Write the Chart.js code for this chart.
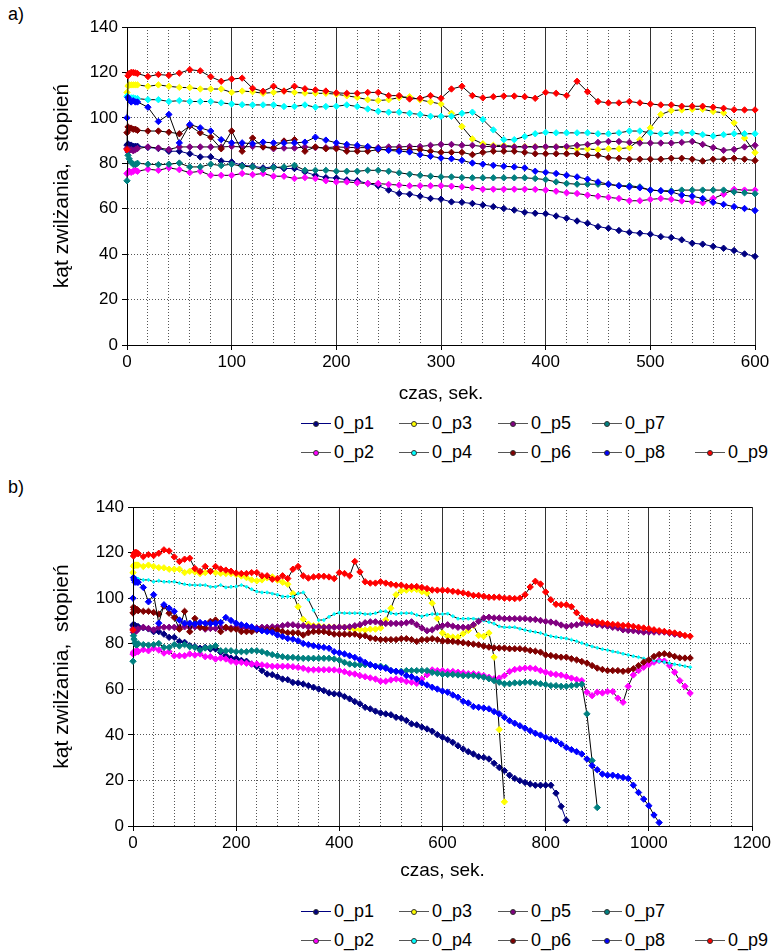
<!DOCTYPE html>
<html lang="pl">
<head>
<meta charset="UTF-8">
<title>Kąt zwilżania w czasie</title>
<script src="https://cdn.jsdelivr.net/npm/chart.js@4.4.0/dist/chart.umd.min.js"></script>
<style>
  body { margin: 0; background: #fff; font-family: Arial, "Liberation Sans", sans-serif; }
  #page { position: relative; width: 784px; height: 952px; overflow: hidden; }
  canvas { position: absolute; left: 0; }
  .tag { position: absolute; left: 8px; font-size: 18px; line-height: 20px; color: #000; }
  .leg { position: absolute; height: 20px; font-size: 18px; line-height: 20px; color: #000; white-space: nowrap; }
  .leg i { position: absolute; left: 0; top: 10px; width: 30px; height: 1px; }
  .leg b { position: absolute; left: 12px; top: 8px; width: 4px; height: 4px; border-radius: 50%; border: 0.5px solid #333; }
  .leg span { position: absolute; left: 33px; top: 0; }
</style>
</head>
<body>
<div id="page">
  <div class="tag" style="top:4px">a)</div>
  <canvas id="chartA" width="784" height="410" style="top:0"></canvas>
  <div class="tag" style="top:477px">b)</div>
  <canvas id="chartB" width="784" height="410" style="top:480px"></canvas>
</div>
<script>
// czas pomiaru [s]
const czas = [0, 1, 2, 4, 6, 8, 10,
  20, 30, 40, 50, 60, 70, 80, 90, 100,
  110, 120, 130, 140, 150, 160, 170, 180, 190, 200,
  210, 220, 230, 240, 250, 260, 270, 280, 290, 300,
  310, 320, 330, 340, 350, 360, 370, 380, 390, 400,
  410, 420, 430, 440, 450, 460, 470, 480, 490, 500,
  510, 520, 530, 540, 550, 560, 570, 580, 590, 600,
  610, 620, 630, 640, 650, 660, 670, 680, 690, 700,
  710, 720, 730, 740, 750, 760, 770, 780, 790, 800,
  810, 820, 830, 840, 850, 860, 870, 880, 890, 900,
  910, 920, 930, 940, 950, 960, 970, 980, 990, 1000,
  1010, 1020, 1030, 1040, 1050, 1060, 1070, 1080];

// kat zwilzania [stopien]
const p1 = [88, 88.5, 88, 88, 87.5, 87.5, 87.5,
  87, 86.5, 85.3, 85.3, 84.2, 82.8, 82.8, 81, 80.6,
  79.1, 78.7, 78, 78.4, 77.7, 77.7, 76.2, 74.7, 73.7, 73.5,
  72.7, 72.3, 71.1, 70.1, 68.2, 66.7, 66.4, 65.5, 64.5, 64.2,
  63, 62.8, 62.3, 61.6, 60.9, 60.1, 59.4, 58.4, 58, 57.8,
  56.8, 55.8, 54.6, 53.6, 52.1, 51.4, 50.4, 49.6, 49.2, 48.8,
  47.7, 47.3, 46.3, 44.8, 44.4, 43.4, 42.6, 41.6, 40.1, 39,
  37.9, 36.7, 35.2, 33.8, 32.6, 31.6, 30.4, 30.1, 29.4, 27.5,
  25.7, 24.3, 22.3, 20.9, 19.9, 19.1, 18.4, 17.9, 17.9, 17.9,
  17.9, 14.4, 8.6, 2.5];
const p2 = [75.5, 76, 76.5, 76, 76.5, 77, 76.5,
  77.4, 76.9, 78, 77.2, 75.9, 76.5, 74.7, 74.7, 74.7,
  75.5, 75, 75.5, 74.3, 74.3, 73.3, 73.7, 73.3, 72.3, 71.8,
  71.8, 71.4, 71.1, 71.1, 70.7, 70.4, 70.1, 70.1, 70.1, 70.1,
  69.9, 69.6, 69.2, 68.6, 68.6, 68.6, 68.6, 68.6, 68.5, 68.2,
  67.7, 67, 66.7, 66, 65.5, 65, 64.5, 63.5, 63.5, 64.1,
  64.5, 64.1, 63.4, 63.1, 62.6, 64.5, 66.4, 68.5, 68.2, 68.2,
  67.8, 67.8, 67.5, 67.2, 66.8, 66.8, 66.5, 66, 65.3, 64.6,
  64.9, 66, 67.8, 68.7, 69, 69.3, 69.3, 69, 68.2, 67.5,
  66.8, 66.5, 66.2, 65.6, 64.9, 64.3, 63.8, 58.7, 57.2, 58.7,
  58.4, 59, 59, 56.1, 54.3, 61.3, 66.3, 68.2, 69.7, 70.9,
  71.9, 72.6, 72.4, 70.4, 67.5, 63.8, 61.3, 58.3];
const p3 = [111.2, 114, 114.5, 114.5, 114.5, 114.5, 114.5,
  113.9, 114.5, 113.9, 113.4, 113.3, 112.7, 112.7, 112.7, 111.2,
  111.8, 111.5, 110.8, 111.2, 111.8, 111.2, 110.9, 110.8, 110.8, 110.4,
  109.7, 109, 108, 107.6, 108, 108.9, 109.3, 107.9, 107, 106.1,
  102, 96.2, 90.7, 88.6, 87.9, 87.9, 87.4, 87.4, 87.3, 87.2,
  87.2, 86.9, 86.3, 86.3, 86, 86.4, 86.4, 86.9, 90.4, 95.6,
  101.5, 103.2, 103.5, 103.8, 103.8, 102.8, 102.2, 97.8, 91.1, 84.7,
  83.3, 82.9, 82.9, 84.4, 85.8, 88, 83.6, 83.3, 84.7, 74.1,
  42.3, 10.6];
const p4 = [109.5, 109, 108.8, 108.8, 108.8, 108.5, 108.5,
  108, 108, 107.2, 107.6, 107.2, 107.2, 107.2, 106.6, 106.1,
  105.8, 105.7, 105.7, 105.7, 105, 105, 105.7, 104.7, 105, 105.1,
  105.7, 105, 103.9, 102.9, 102.5, 102.5, 102, 101.5, 100.7, 100.7,
  100.7, 102, 102.5, 99.3, 94.7, 90.4, 90.4, 91.8, 93, 93.6,
  93.4, 93.4, 93.4, 93.4, 93, 93, 93.4, 94.2, 94.2, 93.4,
  93, 93.4, 93.4, 93.4, 92.6, 92, 92.6, 93, 93, 93,
  93.2, 92.1, 91, 91, 91, 91, 90.7, 90.2, 89.5, 88.8,
  87.6, 87.2, 87.2, 87.2, 86.6, 86, 85.5, 85.1, 84.7, 83.9,
  83.3, 82.9, 82.6, 82.3, 81.7, 81.1, 80.3, 79.5, 78.8, 78.2,
  77.6, 77.2, 76.6, 76.2, 75.6, 75.1, 74.5, 74.1, 73.5, 73.1,
  72.6, 72.3, 71.9, 71.5, 71, 70.6, 70.1, 69.7];
const p5 = [86.5, 85, 86, 86, 85.5, 86, 86.5,
  87.2, 86.7, 86.1, 87.2, 87.2, 87.2, 87.2, 87.2, 87.4,
  87.2, 87.4, 87.2, 86.4, 86.7, 86.7, 87.2, 86.9, 86.9, 87.2,
  87, 86.9, 86.9, 86.9, 87.2, 87.2, 87.4, 87.4, 87.9, 88.3,
  88.3, 87.9, 87.9, 87.4, 87.4, 87.4, 87.2, 87.2, 87.2, 87.3,
  87.2, 87.4, 87.9, 88.3, 89.2, 89.6, 89.6, 89.2, 88.9, 88.9,
  88.9, 88.9, 89.2, 89.6, 88.3, 86.9, 85.7, 86.1, 87.2, 87.9,
  88.3, 87.7, 87.2, 87.2, 87.2, 88.3, 89.8, 91.3, 91.6, 91.3,
  91.3, 91, 91, 91, 91, 91, 90.7, 90.6, 90.2, 89.8,
  89.5, 89.1, 88.2, 87.6, 88, 88.3, 88.8, 88.9, 88.8, 88.3,
  88, 87.7, 87.2, 86.9, 86.1, 85.8, 85.7, 85.4, 85.1, 85.1,
  85.1, 85.1, 85.1, 84.7, 84.2, 83.9];
const p6 = [93.5, 96, 95, 95.5, 95, 95, 94.5,
  94.2, 94.2, 93.7, 93, 96.5, 93.4, 91.5, 86.4, 94.2,
  85.3, 91.1, 87.2, 86.9, 89.8, 90.4, 85.3, 87.2, 86.4, 86.4,
  85.3, 85.3, 85.3, 86, 86, 86, 86, 86, 85.3, 84.8,
  84.8, 84.8, 83.8, 84.8, 85.3, 85.3, 85.3, 84.8, 84.2, 84.2,
  84.2, 84.2, 84.2, 83.5, 83.5, 82.5, 82.2, 81.8, 81.8, 81.8,
  81.8, 82.2, 82.2, 81.8, 81, 81.8, 81.8, 82.2, 81.8, 81.2,
  81.2, 81, 80.7, 80.4, 80.1, 79.8, 79.5, 78.9, 78.5, 78.2,
  78.1, 78.1, 77.8, 77.8, 77.8, 77.5, 77, 76.7, 76.3, 75.1,
  74.8, 74.4, 74.1, 74.1, 73.4, 72.9, 72.2, 71.5, 70.4, 69.3,
  68.7, 68.2, 68.2, 68.2, 67.9, 68.2, 69, 70.4, 71.9, 72.9,
  74.4, 75.3, 75.6, 75.1, 74.4, 73.8, 73.7, 73.7];
const p7 = [72.3, 83.5, 82, 80.5, 79.5, 79.5, 80,
  79.6, 79.4, 79.6, 80.1, 78.4, 78.4, 79.6, 79, 79.6,
  78.7, 78.4, 77.2, 78.1, 78.4, 79.1, 76.9, 76.9, 76.9, 76.5,
  76.5, 76.5, 76.9, 76.9, 76.5, 75.8, 75.2, 74.7, 74.3, 74,
  74, 73.7, 73.6, 73.6, 73.6, 73.6, 73.6, 73.6, 73.3, 72.8,
  71.8, 71.1, 70.8, 70.8, 70.8, 70.7, 70.1, 70.1, 69.6, 68.2,
  67.9, 67.9, 68.2, 68.2, 68.2, 68.2, 68.2, 67.4, 67, 66.6,
  66.5, 66.5, 66.3, 66, 66, 66, 65.7, 65.3, 64.6, 63.8,
  63.1, 62.4, 62.4, 62.8, 62.8, 63.1, 63.1, 62.8, 62.4, 62.1,
  61.6, 61.6, 61.3, 61.3, 61.6, 61.9, 62.2, 49.2, 28.7, 8.1];
const p8 = [100, 109, 108, 107, 107.5, 107, 107,
  104.7, 98.4, 101.5, 89, 97.1, 95.6, 94.2, 90.4, 89,
  89, 88.6, 89.3, 89, 88.9, 89, 89.3, 91.5, 90.2, 89,
  88.3, 87.9, 87.4, 86.4, 85.7, 85.3, 85, 83.8, 83.1, 82.3,
  82, 81.3, 80.1, 79.6, 79.1, 78.7, 78.4, 78, 76.5, 76,
  75.5, 74.7, 74, 73, 71.8, 70.8, 70.1, 69.6, 69.2, 68.2,
  67.9, 67.4, 66, 65.5, 64.5, 62.8, 61.9, 60.9, 60.1, 59.2,
  58.7, 57.5, 56.5, 54.7, 54, 52.4, 52.1, 51.8, 51.4, 50.2,
  49.2, 47.7, 46.2, 45.1, 44, 42.9, 41.8, 40.7, 39.9, 38.9,
  38.2, 37.4, 36, 34.5, 33.5, 32.6, 31.6, 29.4, 26.5, 24.7,
  22.8, 22.3, 22.3, 21.8, 21.3, 20.9, 17.9, 14.7, 11.8, 8.9,
  4.8, 1.5];
const p9 = [86, 118.5, 119.5, 120, 120, 119.8, 119.5,
  118.2, 119.1, 118.7, 119.7, 121.2, 120.7, 118.1, 116.1, 117.1,
  117.5, 113, 111.7, 113.9, 111.8, 113.9, 112.8, 112.3, 111.8, 111,
  110.8, 110.8, 111.2, 111.2, 109.8, 109.8, 108.3, 108.6, 109.8, 108.6,
  112.7, 113.9, 109.8, 108.8, 109.3, 109.6, 109.6, 109.3, 108.6, 111.2,
  110.8, 109.8, 116.1, 111.5, 107.2, 106.6, 106.6, 107.2, 106.6, 106.1,
  105.7, 105.7, 105.1, 105.1, 105.1, 104.7, 104.2, 103.6, 103.5, 103.5,
  103.4, 103, 102.7, 102.3, 101.8, 101.2, 101.2, 100.8, 100.4, 100.4,
  100.4, 100, 100, 99.8, 100, 101.5, 104.9, 107.4, 106.2, 102.7,
  99.3, 97.3, 97.1, 97.1, 96.2, 93.6, 91.3, 90.2, 89.8, 89.5,
  89.1, 88.8, 88.5, 88.3, 88, 88, 87.6, 87.2, 86.9, 86.6,
  86.1, 85.7, 85.4, 85, 84.7, 84.2, 83.6, 83.3];

const nazwy = ['0_p1', '0_p2', '0_p3', '0_p4', '0_p5', '0_p6', '0_p7', '0_p8', '0_p9'];
const kolory = ['#000080', '#ff00ff', '#ffff00', '#00ffff', '#800080', '#800000', '#008080', '#0000ff', '#ff0000'];
const serie = [p1, p2, p3, p4, p5, p6, p7, p8, p9];
const yTicks = [0, 20, 40, 60, 80, 100, 120, 140];

const FONT = 'Arial, "Liberation Sans", sans-serif';

function datasets(maxT, smallCyan) {
  return serie.map((vals, i) => ({
    label: nazwy[i],
    data: vals.map((v, k) => ({ x: czas[k], y: v })).filter(p => p.x <= maxT),
    borderColor: i === 0 ? '#000080' : '#000',
    borderWidth: 1,
    tension: 0,
    pointStyle: 'rectRot',
    pointRadius: (smallCyan && i === 3) ? 1.7 : 3.2,
    pointBackgroundColor: kolory[i],
    pointBorderColor: kolory[i],
    pointBorderWidth: 1,
    order: -i,
    clip: false
  }));
}

function makeChart(id, o) {
  const isMajor = ctx => ctx.tick && ctx.tick.value % o.major === 0;
  return new Chart(document.getElementById(id), {
    type: 'line',
    data: { datasets: datasets(o.xMax, o.smallCyan) },
    options: {
      responsive: false,
      animation: false,
      devicePixelRatio: 1,
      layout: { padding: { top: 27, right: o.padRight, left: 0, bottom: 0 } },
      plugins: { legend: { display: false }, tooltip: { enabled: false } },
      scales: {
        x: {
          type: 'linear',
          min: 0,
          max: o.xMax,
          ticks: {
            stepSize: o.minor,
            autoSkip: false,
            maxRotation: 0,
            padding: 2,
            color: '#000',
            font: { family: FONT, size: 17 },
            callback: v => (v % o.major === 0 ? String(v) : '')
          },
          grid: {
            color: ctx => (isMajor(ctx) ? '#333' : '#555'),
            lineWidth: 1,
            tickLength: 5,
            tickColor: ctx => (isMajor(ctx) ? '#000' : 'rgba(0,0,0,0)')
          },
          border: {
            color: '#000',
            width: 1,
            dash: ctx => (ctx.tick && !isMajor(ctx) ? [1, 2] : [])
          },
          title: {
            display: true,
            text: 'czas, sek.',
            color: '#000',
            font: { family: FONT, size: 19 },
            padding: { top: 0, bottom: o.titlePad }
          },
          afterFit: s => { s.height = o.xHeight; }
        },
        y: {
          min: 0,
          max: 140,
          afterBuildTicks: s => { s.ticks = yTicks.map(v => ({ value: v })); },
          ticks: {
            padding: 4,
            color: '#000',
            font: { family: FONT, size: 17 }
          },
          grid: {
            color: ctx => (ctx.tick && ctx.tick.value === 140 ? '#000' : '#555'),
            lineWidth: 1,
            tickLength: 5,
            tickColor: '#000'
          },
          border: {
            color: '#000',
            width: 1,
            dash: ctx => (ctx.tick && ctx.tick.value > 0 && ctx.tick.value < 140 ? [1, 2] : [])
          },
          title: {
            display: true,
            text: 'kąt zwilżania,  stopień',
            color: '#000',
            font: { family: FONT, size: 21 },
            padding: { top: 50, bottom: 0 }
          },
          afterFit: s => { s.width = o.yWidth; }
        }
      }
    }
  });
}

makeChart('chartA', { xMax: 600, major: 100, minor: 20, padRight: 29, xHeight: 65, titlePad: 5, yWidth: 127, smallCyan: false });
makeChart('chartB', { xMax: 1200, major: 200, minor: 40, padRight: 32, xHeight: 64, titlePad: 8, yWidth: 133, smallCyan: true });

// legenda (dwa wiersze, jak w oryginale)
const legendaUklad = [[0, 2, 4, 6], [1, 3, 5, 7, 8]];
const kolumnyX = [301, 399, 498, 592, 695];
function legenda(rowTops) {
  const page = document.getElementById('page');
  legendaUklad.forEach((row, r) => {
    row.forEach((si, c) => {
      const d = document.createElement('div');
      d.className = 'leg';
      d.style.left = kolumnyX[c] + 'px';
      d.style.top = rowTops[r] + 'px';
      const line = document.createElement('i');
      line.style.background = si === 0 ? '#000080' : '#555';
      const dot = document.createElement('b');
      dot.style.background = kolory[si];
      const txt = document.createElement('span');
      txt.textContent = nazwy[si];
      d.append(line, dot, txt);
      page.appendChild(d);
    });
  });
}
legenda([413, 442]);
legenda([901, 930]);
</script>
</body>
</html>
